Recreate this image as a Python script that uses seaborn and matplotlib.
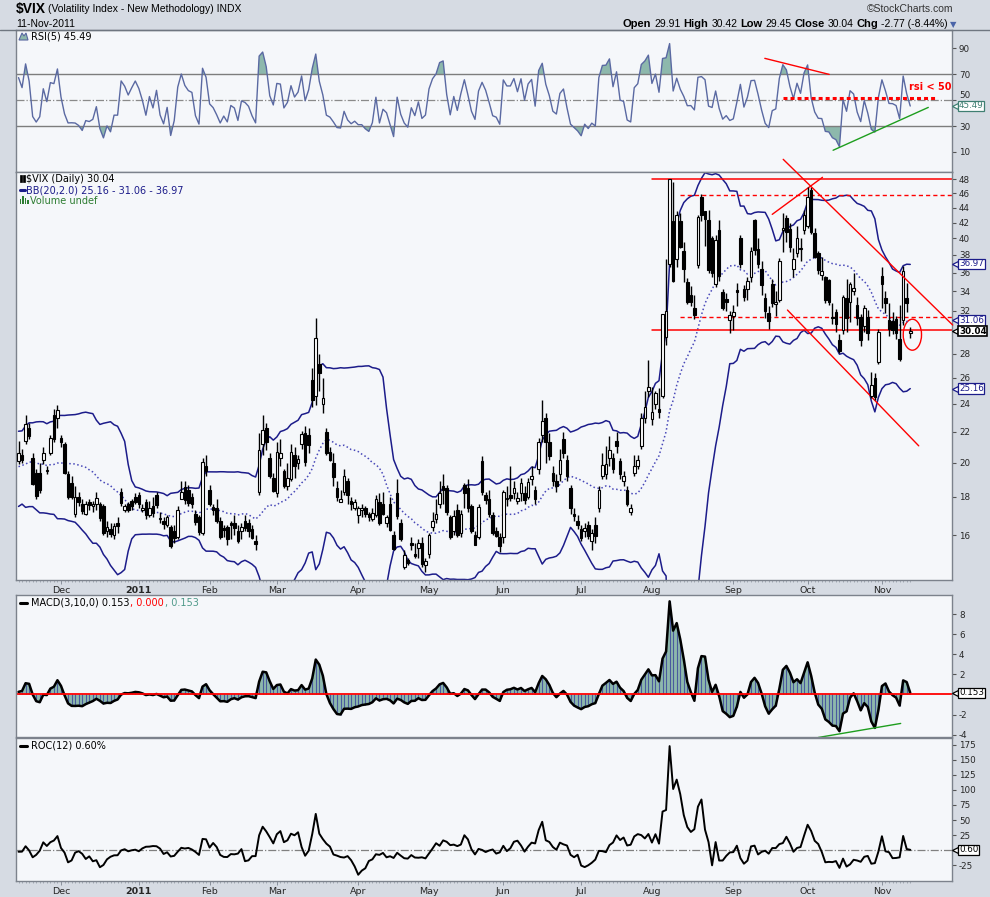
import numpy as np
import pandas as pd
import seaborn as sns
import matplotlib.pyplot as plt
from matplotlib import font_manager, transforms
from matplotlib.patches import Ellipse, Polygon, Rectangle
from matplotlib.lines import Line2D

sns.set_style("white")
plt.rcParams["font.family"] = ["DejaVu Sans"]
plt.rcParams["axes.unicode_minus"] = False

# --- data -------------------------------------------------------------
holidays = ["2010-11-25", "2010-12-24", "2011-01-17", "2011-02-21",
            "2011-04-22", "2011-05-30", "2011-07-04", "2011-09-05"]
dates = pd.bdate_range("2010-11-12", "2011-11-11")
dates = dates[~dates.isin(pd.to_datetime(holidays))]

# closes before the first bar (only used to warm up the indicators)
warmup_close = [19.85, 19.03, 18.66, 20.98, 19.13, 18.76, 19.08, 19.85, 20.71, 21.17,
                20.71, 21.20, 21.83, 21.28, 19.56, 18.52, 18.26, 18.29, 19.08, 18.56, 19.08]

opens = [
    20.10, 20.50, 21.40, 22.30, 20.30, 19.40, 19.40, 20.20, 19.50, 20.60, 23.20, 23.00,  # nov
    21.60, 21.20, 19.30, 18.80, 17.10, 18.00, 17.60, 17.10, 17.70, 17.50, 17.60, 17.60, 17.50,
    16.20, 16.30, 16.00, 16.60, 18.30, 17.30, 17.60, 17.80, 18.00,  # dec
    18.10, 17.30, 17.70, 17.00, 17.50, 18.10, 16.80, 16.70, 16.50, 16.40, 16.20, 15.90, 17.90,
    18.55, 18.40, 18.00, 17.10, 16.90, 16.10, 19.80,  # jan
    18.40, 17.45, 17.40, 16.70, 16.35, 16.40, 16.60, 16.60, 16.20, 16.20, 16.70, 16.60, 16.30,
    15.70, 18.30, 21.20, 22.30, 20.30, 19.10,  # feb
    18.20, 20.30, 19.50, 18.60, 19.00, 20.50, 20.00, 21.20, 21.90, 21.80, 25.80, 24.60, 27.10,
    24.00, 22.00, 20.70, 20.00, 18.50, 17.70, 18.30, 18.90, 17.80, 17.40,  # mar
    17.00, 17.30, 17.40, 17.10, 16.80, 17.00, 17.70, 17.60, 16.60, 17.60, 16.00, 18.20, 16.60,
    14.50, 14.80, 15.60, 15.10, 15.40, 15.60, 14.60,  # apr
    15.10, 16.40, 16.80, 17.60, 18.60, 18.50, 16.90, 16.20, 17.30, 16.10, 18.70, 18.50, 17.50,
    16.00, 15.90, 20.10, 18.10, 17.90, 17.00, 16.20, 15.90,  # may
    15.90, 17.90, 18.10, 18.20, 17.80, 18.20, 18.20, 18.00, 19.00, 18.40, 19.60, 21.80, 23.00,
    21.30, 19.40, 18.90, 19.30, 21.50, 20.20, 18.50, 17.10, 16.70,  # jun
    16.30, 16.20, 16.50, 15.70, 16.50, 17.40, 19.20, 19.30, 20.30, 20.30, 21.40, 20.10, 18.90,
    18.40, 17.20, 19.40, 19.80, 21.10, 23.00, 25.00,  # jul
    22.90, 24.00, 23.60, 24.60, 29.50, 37.00, 42.20, 37.50, 42.20, 38.50, 35.00, 33.60, 32.30,
    36.80, 45.40, 43.50, 42.30, 40.00, 34.70, 41.00, 33.90, 33.20, 31.10,  # aug
    31.50, 34.10, 40.10, 34.20, 34.20, 35.50, 42.30, 38.70, 36.40, 33.30, 31.80, 34.70, 32.70,
    33.10, 41.00, 42.60, 41.20, 36.40, 38.20, 38.70, 41.00,  # sep
    41.60, 46.40, 40.70, 38.20, 35.70, 35.50, 35.20, 31.40, 31.90, 29.20, 30.10, 33.30, 32.90,
    34.00, 32.60, 31.40, 30.50, 31.40, 24.60, 26.00, 27.30,  # oct
    35.60, 33.30, 31.10, 31.00, 31.20, 29.30, 31.10, 33.30, 29.91,  # nov
]
highs = [
    21.40, 20.90, 23.20, 22.60, 20.60, 19.60, 20.00, 21.00, 19.80, 21.80, 23.60, 23.90,
    21.80, 21.30, 19.50, 19.20, 18.60, 18.30, 17.90, 17.80, 17.90, 17.80, 18.30, 17.70, 17.60,
    16.70, 16.60, 16.60, 16.90, 18.50, 17.60, 17.70, 17.90, 18.20,
    18.30, 17.60, 17.90, 17.80, 18.00, 18.30, 17.20, 16.90, 17.00, 16.50, 16.50, 17.50, 18.90,
    18.90, 18.70, 18.20, 17.30, 17.00, 20.30, 20.50,
    18.70, 17.60, 17.90, 16.90, 16.50, 16.50, 16.70, 17.00, 16.50, 16.60, 17.00, 16.80, 16.50,
    16.00, 21.90, 23.20, 22.60, 20.60, 19.40,
    21.30, 21.50, 19.60, 20.00, 21.20, 21.00, 20.50, 22.10, 22.40, 22.30, 26.80, 31.30, 28.00,
    26.00, 22.30, 21.00, 20.60, 18.90, 18.40, 19.60, 19.10, 18.00, 17.90,
    17.50, 17.60, 17.50, 17.20, 17.40, 18.10, 18.20, 18.30, 17.00, 18.00, 16.20, 19.00, 16.80,
    15.30, 14.90, 15.90, 15.60, 15.80, 15.90, 14.90,
    16.10, 17.20, 17.90, 18.90, 19.30, 18.70, 17.00, 17.30, 17.60, 17.30, 18.80, 19.00, 17.60,
    16.20, 17.60, 20.40, 18.30, 18.40, 17.20, 16.40, 16.10,
    18.40, 18.60, 19.80, 18.90, 18.30, 19.10, 18.60, 19.10, 19.80, 18.60, 21.60, 24.30, 23.30,
    21.90, 19.80, 19.30, 20.90, 22.00, 20.50, 18.70, 17.40, 17.00,
    16.50, 16.60, 16.70, 16.30, 16.90, 18.60, 20.60, 21.10, 21.70, 20.60, 22.00, 20.30, 19.50,
    18.60, 17.60, 20.50, 20.50, 23.30, 25.00, 27.50,
    25.30, 25.00, 25.20, 31.70, 37.50, 48.00, 47.60, 43.50, 43.20, 39.50, 35.40, 34.50, 33.60,
    43.00, 45.90, 43.50, 43.60, 40.30, 40.40, 42.30, 34.20, 33.80, 32.00,
    32.60, 34.90, 40.40, 34.60, 35.50, 39.00, 42.50, 40.00, 37.30, 33.80, 32.50, 35.30, 34.00,
    37.60, 43.20, 43.00, 42.00, 38.80, 41.50, 40.00, 43.60,
    46.90, 46.90, 41.30, 38.50, 37.80, 35.60, 35.30, 32.80, 32.20, 29.80, 33.60, 35.30, 35.00,
    36.00, 33.40, 31.70, 32.60, 32.10, 26.50, 26.40, 30.20,
    36.60, 34.00, 32.80, 31.90, 31.50, 32.60, 36.70, 34.90, 30.42,
]
lows = [
    19.90, 20.00, 21.20, 21.50, 18.70, 17.90, 18.20, 19.90, 19.30, 20.50, 21.30, 22.30,
    21.00, 19.30, 17.90, 17.90, 16.90, 17.50, 17.10, 17.00, 17.30, 17.20, 17.30, 16.70, 16.00,
    15.90, 15.90, 15.80, 16.10, 17.50, 17.20, 17.20, 17.30, 17.60,
    17.40, 17.20, 16.80, 16.90, 16.90, 17.40, 16.60, 16.30, 16.40, 15.40, 15.60, 15.80, 17.90,
    17.60, 17.50, 17.40, 16.50, 16.00, 16.00, 19.20,
    17.50, 17.00, 16.60, 15.80, 15.90, 15.50, 15.80, 16.00, 15.60, 15.80, 16.20, 15.90, 15.80,
    15.30, 18.10, 20.50, 20.80, 19.10, 18.30,
    18.00, 19.80, 18.50, 18.40, 18.90, 19.10, 19.60, 20.90, 19.80, 20.60, 23.80, 23.90, 25.00,
    23.30, 20.50, 20.10, 18.60, 17.80, 17.70, 18.10, 17.60, 17.30, 17.30,
    16.60, 16.90, 16.90, 16.70, 16.70, 16.90, 16.50, 17.00, 16.40, 16.20, 15.30, 16.80, 15.70,
    14.40, 14.60, 15.30, 14.90, 14.90, 14.50, 14.30,
    14.90, 16.20, 16.60, 17.40, 17.60, 17.00, 15.80, 16.00, 15.90, 15.90, 17.40, 17.20, 16.10,
    15.50, 15.80, 18.10, 17.60, 16.90, 16.00, 15.90, 15.20,
    15.60, 17.50, 17.80, 17.90, 17.60, 17.80, 17.60, 17.90, 18.70, 17.60, 19.30, 21.30, 20.00,
    20.20, 18.60, 18.30, 18.90, 20.30, 18.90, 17.10, 16.70, 16.30,
    15.70, 15.90, 15.80, 15.30, 15.60, 17.20, 19.00, 19.00, 19.80, 19.40, 20.60, 19.00, 18.60,
    17.50, 17.00, 19.20, 19.60, 20.90, 22.60, 24.50,
    22.50, 23.60, 23.00, 24.40, 28.80, 36.60, 35.00, 36.60, 38.80, 35.00, 32.70, 32.50, 31.20,
    36.50, 42.20, 39.10, 35.90, 35.50, 34.40, 35.10, 32.10, 32.00, 29.90,
    30.10, 32.50, 36.50, 33.00, 33.10, 35.00, 38.00, 36.50, 33.60, 31.30, 30.20, 32.40, 31.50,
    32.90, 38.30, 39.60, 38.30, 35.50, 37.80, 37.30, 40.50,
    41.30, 40.50, 37.60, 35.80, 35.20, 32.80, 32.60, 30.70, 30.00, 28.10, 29.80, 30.00, 30.90,
    33.60, 30.60, 28.70, 30.00, 29.20, 24.40, 24.30, 27.10,
    32.30, 31.80, 29.60, 29.80, 29.30, 27.40, 30.60, 31.90, 29.45,
]
closes = [
    20.61, 20.20, 22.58, 21.72, 18.76, 18.04, 18.37, 20.63, 19.56, 21.60, 21.53, 23.54,
    21.36, 19.39, 18.01, 18.02, 17.99, 17.74, 17.25, 17.61, 17.55, 17.61, 17.94, 16.88, 16.11,
    16.43, 16.04, 16.47, 16.47, 17.67, 17.52, 17.28, 17.52, 17.75,
    17.61, 17.38, 17.02, 17.40, 17.14, 17.54, 16.89, 16.55, 16.90, 15.46, 15.87, 17.31, 18.30,
    17.85, 17.65, 17.59, 16.64, 16.15, 20.04, 19.53,
    17.63, 17.30, 16.69, 15.93, 16.25, 15.81, 16.50, 16.37, 15.69, 16.43, 16.37, 16.23, 15.88,
    15.59, 20.80, 22.13, 21.32, 19.22, 18.35,
    20.70, 20.65, 18.60, 19.06, 20.66, 19.80, 20.22, 21.88, 20.08, 21.13, 24.32, 29.40, 26.37,
    24.44, 20.61, 20.18, 19.17, 18.00, 17.91, 19.20, 18.10, 17.60, 17.74,
    17.40, 17.40, 17.09, 16.90, 17.11, 17.87, 16.59, 17.09, 16.92, 16.27, 15.32, 16.96, 15.83,
    15.07, 14.69, 15.52, 15.02, 15.62, 14.62, 14.75,
    15.99, 16.70, 17.08, 18.20, 18.40, 17.16, 15.91, 16.95, 16.03, 17.07, 18.24, 17.39, 16.23,
    15.52, 17.43, 18.27, 17.82, 17.07, 16.09, 15.98, 15.45,
    18.30, 17.95, 17.95, 18.49, 17.96, 18.79, 17.83, 18.86, 19.20, 17.88, 21.32, 22.73, 21.30,
    20.40, 18.90, 18.60, 20.20, 20.60, 19.20, 17.40, 16.95, 16.52,
    15.87, 16.34, 15.95, 16.13, 15.95, 18.39, 19.87, 19.91, 20.80, 19.60, 21.10, 19.30, 19.20,
    17.60, 17.40, 19.80, 20.20, 22.98, 23.74, 25.25,
    23.42, 24.79, 23.38, 31.66, 32.00, 48.00, 35.06, 42.99, 39.00, 36.36, 32.85, 32.88, 31.58,
    42.67, 43.05, 42.44, 36.27, 35.90, 39.76, 35.59, 32.28, 32.89, 31.62,
    31.82, 33.92, 37.00, 33.38, 35.06, 38.52, 38.59, 36.91, 34.60, 31.97, 30.98, 32.73, 32.91,
    37.32, 41.35, 40.80, 39.00, 37.50, 40.00, 38.84, 42.96,
    45.45, 40.82, 37.81, 36.27, 36.20, 33.02, 32.86, 31.26, 30.70, 28.24, 33.39, 31.26, 34.78,
    34.30, 31.32, 29.26, 32.22, 29.86, 25.46, 24.53, 29.96,
    34.77, 32.74, 30.20, 30.16, 29.85, 27.60, 36.16, 32.81, 30.04,
]

# annotation lines (bar index, value)
rsi_res_x, rsi_res_y = [210.9, 229.1], [82.3, 69.9]
rsi_sup_x, rsi_sup_y = [230.2, 257.1], [11.3, 44.4]
rsi_mid_x, rsi_mid_y = [215.9, 259.5], [51.3, 51.3]
range_solid = [48.1, 30.15]
range_dashed = [45.7, 31.35]
chan_up_x, chan_up_y = [216.1, 264.0], [51.06, 30.61]
chan_dn_x, chan_dn_y = [217.3, 254.4], [32.06, 21.08]
cross_x, cross_y = [213.0, 227.2], [43.08, 48.3]
macd_sup_x, macd_sup_y = [226.0, 249.3], [-4.29, -2.89]

# --- indicators -------------------------------------------------------
nw = len(warmup_close)
s = pd.Series(warmup_close + closes)
mid = s.rolling(20).mean()
sd = s.rolling(20).std(ddof=0)
upper, lower = mid + 2 * sd, mid - 2 * sd
d = s.diff()
ag = d.clip(lower=0).ewm(alpha=1 / 5, adjust=False).mean()
al = (-d.clip(upper=0)).ewm(alpha=1 / 5, adjust=False).mean()
rsi = 100 - 100 / (1 + ag / al)
macd = s.ewm(span=3, adjust=False).mean() - s.ewm(span=10, adjust=False).mean()
roc = (s / s.shift(12) - 1) * 100

rsi, mid, upper, lower, macd, roc = [v.values[nw:] for v in (rsi, mid, upper, lower, macd, roc)]
o, h, l, c = map(np.array, (opens, highs, lows, closes))
x = np.arange(len(c))

# --- figure -----------------------------------------------------------
W, H = 990, 897
BG, FACE, EDGE = "#D6DBE3", "#F5F7FA", "#7C828C"
TICK = 6.3
fig = plt.figure(figsize=(W / 100, H / 100), dpi=100, facecolor=BG)


def panel(top, bottom):
    ax = fig.add_axes([16 / W, 1 - bottom / H, 936 / W, (bottom - top) / H])
    ax.set_facecolor(FACE)
    for sp in ax.spines.values():
        sp.set_color(EDGE)
        sp.set_linewidth(1)
    ax.set_xlim(-0.71, 263.8)
    ax.yaxis.tick_right()
    ax.tick_params(axis="y", which="both", direction="out", length=3, width=0.8,
                   color="#555555", labelsize=TICK, pad=2)
    ax.tick_params(axis="x", which="both", bottom=False, labelbottom=False)
    return ax


ax_rsi = panel(30, 172)
ax_px = panel(172, 580)
ax_macd = panel(595, 737)
ax_roc = panel(738, 881)

month_idx = [i for i in range(1, len(dates)) if dates[i].month != dates[i - 1].month]
month_lbl = ["2011" if dates[i].month == 1 else dates[i].strftime("%b") for i in month_idx]
for ax in (ax_px, ax_roc):
    ax.set_xticks(month_idx)
    ax.set_xticklabels(month_lbl, fontsize=6.8)
    ax.set_xticks(x, minor=True)
    ax.tick_params(axis="x", which="major", bottom=True, labelbottom=True, length=3,
                   width=0.7, color="#8A919C", pad=1.5, direction="out")
    ax.tick_params(axis="x", which="minor", bottom=True, length=1.5, width=0.6,
                   color="#9AA1AC", direction="out")
    for t in ax.get_xticklabels():
        if t.get_text() == "2011":
            t.set_fontweight("bold")

# RSI panel
ax_rsi.set_ylim(-5.5, 104.2)
rsi_ticks = [10, 30, 50, 70, 90]
ax_rsi.set_yticks(rsi_ticks)
ax_rsi.set_yticklabels([str(t) for t in rsi_ticks])
for t in ax_rsi.get_yticklabels():
    if t.get_text() == "50":
        t.set_va("bottom")
ax_rsi.fill_between(x, 70, rsi, where=rsi >= 70, interpolate=True, color="#8DB8AC", lw=0)
ax_rsi.fill_between(x, 30, rsi, where=rsi <= 30, interpolate=True, color="#8DB8AC", lw=0)
for lv in (70, 30):
    ax_rsi.axhline(lv, color="#7D7D7D", lw=1)
ax_rsi.axhline(50, color="#8A8A8A", lw=0.9, ls="-.")
sns.lineplot(x=x, y=rsi, ax=ax_rsi, color="#5A69A2", linewidth=1)
ax_rsi.plot(rsi_res_x, rsi_res_y, color="red", lw=1)
ax_rsi.plot(rsi_sup_x, rsi_sup_y, color="#1E9E1E", lw=1)
ax_rsi.plot(rsi_mid_x, rsi_mid_y, color="red", lw=2.2, dashes=(1.3, 1.0))
ax_rsi.text(257.6, 60, "rsi < 50", color="red", fontsize=7, fontweight="bold",
            ha="center", va="center")
ax_rsi.set_ylabel("")

# price panel
ax_px.set_yscale("log")
ax_px.set_ylim(13.93, 49.1)
ticks = [16, 18, 20, 22, 24, 26, 28, 32, 34, 36, 38, 40, 42, 44, 46, 48]
ax_px.set_yticks(ticks)
ax_px.set_yticklabels([str(t) for t in ticks])
ax_px.yaxis.set_minor_locator(plt.NullLocator())
sns.lineplot(x=x, y=upper, ax=ax_px, color="#1C1C8A", linewidth=1.1)
sns.lineplot(x=x, y=lower, ax=ax_px, color="#1C1C8A", linewidth=1.1)
ax_px.plot(x, mid, color="#4848B8", lw=1.1, ls=":")
ax_px.vlines(x, l, h, color="black", lw=1, zorder=3)
up = c >= o
ax_px.bar(x, np.abs(c - o), bottom=np.minimum(o, c), width=0.74,
          color=np.where(up, "white", "black"), edgecolor="black", linewidth=0.8, zorder=4)
for v in range_solid:
    ax_px.plot([179.1, 263.8], [v, v], color="red", lw=1.1)
for v in range_dashed:
    ax_px.plot([186.9, 263.8], [v, v], color="red", lw=1, dashes=(3, 2.2))
ax_px.plot(chan_up_x, chan_up_y, color="red", lw=1, clip_on=False, zorder=6)
ax_px.plot(chan_dn_x, chan_dn_y, color="red", lw=1)
ax_px.plot(cross_x, cross_y, color="red", lw=1)
ell = Ellipse((0, 0), 0.183, 0.31, fill=False, ec="red", lw=1,
              transform=fig.dpi_scale_trans + transforms.ScaledTranslation(252.6, 29.71, ax_px.transData))
ax_px.add_artist(ell)
ax_px.set_ylabel("")

# MACD panel
ax_macd.set_ylim(-4.24, 9.9)
ax_macd.set_yticks([-4, -2, 2, 4, 6, 8])
ax_macd.fill_between(x, 0, macd, color="#8DB8AC", lw=0)
ax_macd.vlines(x, 0, macd, color="#4A5B9E", lw=0.8)
sns.lineplot(x=x, y=macd, ax=ax_macd, color="black", linewidth=1.8)
ax_macd.axhline(0, color="red", lw=1.3)
ax_macd.plot(macd_sup_x, macd_sup_y, color="#1E9E1E", lw=1, clip_on=False)
ax_macd.set_ylabel("")

# ROC panel
ax_roc.set_ylim(-51.2, 186.2)
ax_roc.set_yticks([-25, 25, 50, 75, 100, 125, 150, 175])
ax_roc.axhline(0, color="#808080", lw=0.9, ls="-.")
sns.lineplot(x=x, y=roc, ax=ax_roc, color="black", linewidth=1.4)
ax_roc.set_ylabel("")


# value tags on the right edge
def tag(ax, y, label, color, bold=False):
    tr = transforms.blended_transform_factory(ax.transAxes, ax.transData)
    ax.plot([1.0035], [y], marker="<", ms=4.5, mfc="white", mec=color, mew=0.9,
            transform=tr, clip_on=False, zorder=7)
    ax.text(1.0075, y, label, transform=tr, ha="left", va="center", fontsize=TICK,
            color="black" if bold else color, fontweight="bold" if bold else "normal",
            bbox=dict(boxstyle="square,pad=0.08", fc="white", ec=color, lw=1.2 if bold else 0.9),
            zorder=8, clip_on=False)


tag(ax_px, 36.97, "36.97", "#1C1C8A")
tag(ax_px, 31.06, "31.06", "#1C1C8A")
tag(ax_px, 30.04, "30.04", "black", bold=True)
tag(ax_px, 25.16, "25.16", "#1C1C8A")
tag(ax_rsi, 45.49, "45.49", "#3F7F72")
tag(ax_macd, 0.153, "0.153", "black")
tag(ax_roc, 0.60, "0.60", "black")

# --- text runs --------------------------------------------------------
renderer = fig.canvas.get_renderer()
names = {f.name for f in font_manager.fontManager.ttflist}
HEAD = "Liberation Sans Narrow" if "Liberation Sans Narrow" in names else "Liberation Sans"


def runs(x0, y0, parts, family="DejaVu Sans", gap=2.5, right=False):
    items = []
    for txt, size, color, weight in parts:
        t = fig.text(0, 1 - y0 / H, txt, fontsize=size, color=color, fontweight=weight,
                     family=family, ha="left", va="center")
        items.append(t)
    widths = [t.get_window_extent(renderer).width for t in items]
    total = sum(widths) + gap * (len(items) - 1)
    xx = x0 - total if right else x0
    for t, w in zip(items, widths):
        t.set_x(xx / W)
        xx += w + gap


def fline(x1, x2, y, color, lw=2.2):
    fig.add_artist(Line2D([x1 / W, x2 / W], [1 - y / H, 1 - y / H], color=color, lw=lw))


runs(16, 9, [("$VIX", 10, "black", "bold"),
             ("(Volatility Index - New Methodology) INDX", 7.5, "black", "normal")], family=HEAD)
runs(16, 24, [("11-Nov-2011", 7.5, "black", "normal")], family=HEAD)
runs(953, 9, [("\u00a9StockCharts.com", 7.5, "#333333", "normal")], family=HEAD, right=True)
runs(948, 24, [("Open", 8, "black", "bold"), ("29.91", 7.5, "black", "normal"),
               ("High", 8, "black", "bold"), ("30.42", 7.5, "black", "normal"),
               ("Low", 8, "black", "bold"), ("29.45", 7.5, "black", "normal"),
               ("Close", 8, "black", "bold"), ("30.04", 7.5, "black", "normal"),
               ("Chg", 8, "black", "bold"), ("-2.77 (-8.44%)", 7.5, "black", "normal")],
     family=HEAD, right=True, gap=3)
fig.text(950 / W, 1 - 25 / H, "\u25bc", fontsize=6, color="#4A64A8", ha="left", va="center")
fline(0, W, 30.5, "#6F7680", lw=1)

# panel legends
fig.add_artist(Polygon([[19 / W, 1 - 40 / H], [22 / W, 1 - 33 / H], [24 / W, 1 - 36 / H],
                        [26 / W, 1 - 33 / H], [28 / W, 1 - 40 / H]],
                       closed=True, fc="#8DB8AC", ec="#5867A0", lw=0.8))
runs(31, 36.5, [("RSI(5) 45.49", 7, "black", "normal")])

for dx in (19.5, 22.5):
    fig.add_artist(Rectangle((dx / W, 1 - 182 / H), 2 / W, 7 / H, fc="black", ec="black", lw=0.5))
runs(25.5, 178.5, [("$VIX (Daily) 30.04", 7, "black", "normal")])
fline(20, 25, 190.5, "#1C1C8A")
runs(25.5, 190.5, [("BB(20,2.0) 25.16 - 31.06 - 36.97", 7, "#1C1C8A", "normal")])
for dx, hh in ((19.5, 5), (22, 8), (24.5, 6), (27, 4)):
    fig.add_artist(Rectangle((dx / W, 1 - 204 / H), 1.6 / W, hh / H, fc="#2E7D32", lw=0))
runs(29.5, 200.5, [("Volume undef", 7, "#2E7D32", "normal")])

fline(20, 27, 602.7, "black")
runs(31.5, 602.7, [("MACD(3,10,0) 0.153", 7, "black", "normal"), (", 0.000", 7, "red", "normal"),
                   (", 0.153", 7, "#4F9A8A", "normal")], gap=0.5)
fline(20, 27, 745.7, "black")
runs(31.5, 745.7, [("ROC(12) 0.60%", 7, "black", "normal")])

fig.savefig("out.png", dpi=100, facecolor=BG)
